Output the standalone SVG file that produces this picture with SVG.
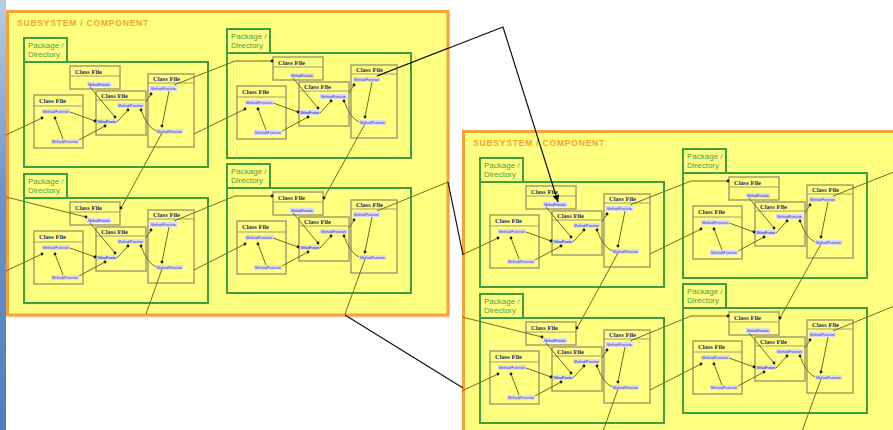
<svg xmlns="http://www.w3.org/2000/svg" width="893" height="430" viewBox="0 0 893 430">
<defs>
<style>
.ss{fill:#ffff80;stroke:#f5a338;stroke-width:3}
.sst{font:bold 8.5px "Liberation Sans",Arial,sans-serif;fill:#f4a232;letter-spacing:0.8px}
.pkg{fill:#ffff80;stroke:#3f9e3f;stroke-width:2}
.pt{font:8px "Liberation Sans",Arial,sans-serif;fill:#4e9e44}
.cl{fill:#ffff80;stroke:#a89e6c;stroke-width:1.5}
.ch{stroke:#a89e6c;stroke-width:1.2;fill:none}
.ct{font:bold 6.5px "Liberation Serif","Times New Roman",serif;fill:#26266e}
.mb{fill:#dadaf6}
.mt{font:3.4px "Liberation Sans",Arial,sans-serif;fill:#3434a6;text-anchor:middle}
.cn{fill:none;stroke:#6d6d2c;stroke-width:1}
.d{marker-end:url(#dot)}
.bk{fill:none;stroke:#111;stroke-width:1.2}
</style>
<marker id="dot" viewBox="0 0 4 4" refX="2" refY="2" markerWidth="4" markerHeight="4" markerUnits="userSpaceOnUse"><circle cx="2" cy="2" r="1.4" fill="#1c1c0c"/></marker>
<marker id="arr" viewBox="0 0 10 10" refX="10" refY="5" markerWidth="7" markerHeight="7" markerUnits="userSpaceOnUse" orient="auto"><path d="M0 0L10 5L0 10z" fill="#111"/></marker>
<linearGradient id="side" x1="0" y1="0" x2="0" y2="1"><stop offset="0" stop-color="#b8cce4"/><stop offset="0.45" stop-color="#6d94c8"/><stop offset="1" stop-color="#4f7dbd"/></linearGradient>
</defs>
<rect x="0" y="0" width="893" height="430" fill="#fff"/>
<rect x="0" y="0" width="6" height="430" fill="url(#side)"/>

<g id="subsystem1">
<rect x="9" y="14" width="441" height="304" fill="#e9e9df"/>
<rect class="ss" x="7.5" y="11.5" width="440.5" height="303.5"/>
<text class="sst" x="17" y="26">SUBSYSTEM / COMPONENT</text>

<g id="s1p1" transform="translate(24 38)">
<rect class="pkg" x="0" y="0" width="43" height="24"/>
<rect class="pkg" x="0" y="24" width="184" height="105"/>
<text class="pt" x="4" y="10">Package /</text>
<text class="pt" x="4" y="19">Directory</text>
<g id="s1p1-c1"><rect class="cl" x="46" y="28" width="50" height="23"/><path class="ch" d="M46 38H96"/><text class="ct" x="51" y="35.5">Class File</text><rect class="mb" x="63" y="44" width="24" height="5"/><text class="mt" x="75" y="47.8" textLength="22">Method/Function</text></g>
<g id="s1p1-c2"><rect class="cl" x="10" y="57" width="49" height="53"/><path class="ch" d="M10 68H59"/><text class="ct" x="15" y="65">Class File</text><rect class="mb" x="18" y="71" width="28" height="5"/><text class="mt" x="32" y="74.8" textLength="26">Method/Function</text><rect class="mb" x="27" y="101" width="28" height="5"/><text class="mt" x="41" y="104.8" textLength="26">Method/Function</text></g>
<g id="s1p1-c3"><rect class="cl" x="72" y="53" width="50" height="44"/><path class="ch" d="M72 62H122"/><text class="ct" x="77" y="60">Class File</text><rect class="mb" x="93" y="65" width="27" height="5"/><text class="mt" x="106.5" y="68.8" textLength="25">Method/Function</text><rect class="mb" x="73" y="81" width="20" height="5"/><text class="mt" x="83" y="84.8" textLength="19">Method/Function</text></g>
<g id="s1p1-c4"><rect class="cl" x="124" y="36" width="46" height="73"/><path class="ch" d="M124 45H170"/><text class="ct" x="129" y="43">Class File</text><rect class="mb" x="126" y="48" width="27" height="5"/><text class="mt" x="139.5" y="51.8" textLength="25">Method/Function</text><rect class="mb" x="132" y="91" width="27" height="5"/><text class="mt" x="145.5" y="94.8" textLength="25">Method/Function</text></g>
</g>

<g id="s1p2" transform="translate(227 29)">
<rect class="pkg" x="0" y="0" width="43" height="24"/>
<rect class="pkg" x="0" y="24" width="184" height="105"/>
<text class="pt" x="4" y="10">Package /</text>
<text class="pt" x="4" y="19">Directory</text>
<g id="s1p2-c1"><rect class="cl" x="46" y="28" width="50" height="23"/><path class="ch" d="M46 38H96"/><text class="ct" x="51" y="35.5">Class File</text><rect class="mb" x="63" y="44" width="24" height="5"/><text class="mt" x="75" y="47.8" textLength="22">Method/Function</text></g>
<g id="s1p2-c2"><rect class="cl" x="10" y="57" width="49" height="53"/><path class="ch" d="M10 68H59"/><text class="ct" x="15" y="65">Class File</text><rect class="mb" x="18" y="71" width="28" height="5"/><text class="mt" x="32" y="74.8" textLength="26">Method/Function</text><rect class="mb" x="27" y="101" width="28" height="5"/><text class="mt" x="41" y="104.8" textLength="26">Method/Function</text></g>
<g id="s1p2-c3"><rect class="cl" x="72" y="53" width="50" height="44"/><path class="ch" d="M72 62H122"/><text class="ct" x="77" y="60">Class File</text><rect class="mb" x="93" y="65" width="27" height="5"/><text class="mt" x="106.5" y="68.8" textLength="25">Method/Function</text><rect class="mb" x="73" y="81" width="20" height="5"/><text class="mt" x="83" y="84.8" textLength="19">Method/Function</text></g>
<g id="s1p2-c4"><rect class="cl" x="124" y="36" width="46" height="73"/><path class="ch" d="M124 45H170"/><text class="ct" x="129" y="43">Class File</text><rect class="mb" x="126" y="48" width="27" height="5"/><text class="mt" x="139.5" y="51.8" textLength="25">Method/Function</text><rect class="mb" x="132" y="91" width="27" height="5"/><text class="mt" x="145.5" y="94.8" textLength="25">Method/Function</text></g>
</g>

<g id="s1p3" transform="translate(24 174)">
<rect class="pkg" x="0" y="0" width="43" height="24"/>
<rect class="pkg" x="0" y="24" width="184" height="105"/>
<text class="pt" x="4" y="10">Package /</text>
<text class="pt" x="4" y="19">Directory</text>
<g id="s1p3-c1"><rect class="cl" x="46" y="28" width="50" height="23"/><path class="ch" d="M46 38H96"/><text class="ct" x="51" y="35.5">Class File</text><rect class="mb" x="63" y="44" width="24" height="5"/><text class="mt" x="75" y="47.8" textLength="22">Method/Function</text></g>
<g id="s1p3-c2"><rect class="cl" x="10" y="57" width="49" height="53"/><path class="ch" d="M10 68H59"/><text class="ct" x="15" y="65">Class File</text><rect class="mb" x="18" y="71" width="28" height="5"/><text class="mt" x="32" y="74.8" textLength="26">Method/Function</text><rect class="mb" x="27" y="101" width="28" height="5"/><text class="mt" x="41" y="104.8" textLength="26">Method/Function</text></g>
<g id="s1p3-c3"><rect class="cl" x="72" y="53" width="50" height="44"/><path class="ch" d="M72 62H122"/><text class="ct" x="77" y="60">Class File</text><rect class="mb" x="93" y="65" width="27" height="5"/><text class="mt" x="106.5" y="68.8" textLength="25">Method/Function</text><rect class="mb" x="73" y="81" width="20" height="5"/><text class="mt" x="83" y="84.8" textLength="19">Method/Function</text></g>
<g id="s1p3-c4"><rect class="cl" x="124" y="36" width="46" height="73"/><path class="ch" d="M124 45H170"/><text class="ct" x="129" y="43">Class File</text><rect class="mb" x="126" y="48" width="27" height="5"/><text class="mt" x="139.5" y="51.8" textLength="25">Method/Function</text><rect class="mb" x="132" y="91" width="27" height="5"/><text class="mt" x="145.5" y="94.8" textLength="25">Method/Function</text></g>
</g>

<g id="s1p4" transform="translate(227 164)">
<rect class="pkg" x="0" y="0" width="43" height="24"/>
<rect class="pkg" x="0" y="24" width="184" height="105"/>
<text class="pt" x="4" y="10">Package /</text>
<text class="pt" x="4" y="19">Directory</text>
<g id="s1p4-c1"><rect class="cl" x="46" y="28" width="50" height="23"/><path class="ch" d="M46 38H96"/><text class="ct" x="51" y="35.5">Class File</text><rect class="mb" x="63" y="44" width="24" height="5"/><text class="mt" x="75" y="47.8" textLength="22">Method/Function</text></g>
<g id="s1p4-c2"><rect class="cl" x="10" y="57" width="49" height="53"/><path class="ch" d="M10 68H59"/><text class="ct" x="15" y="65">Class File</text><rect class="mb" x="18" y="71" width="28" height="5"/><text class="mt" x="32" y="74.8" textLength="26">Method/Function</text><rect class="mb" x="27" y="101" width="28" height="5"/><text class="mt" x="41" y="104.8" textLength="26">Method/Function</text></g>
<g id="s1p4-c3"><rect class="cl" x="72" y="53" width="50" height="44"/><path class="ch" d="M72 62H122"/><text class="ct" x="77" y="60">Class File</text><rect class="mb" x="93" y="65" width="27" height="5"/><text class="mt" x="106.5" y="68.8" textLength="25">Method/Function</text><rect class="mb" x="73" y="81" width="20" height="5"/><text class="mt" x="83" y="84.8" textLength="19">Method/Function</text></g>
<g id="s1p4-c4"><rect class="cl" x="124" y="36" width="46" height="73"/><path class="ch" d="M124 45H170"/><text class="ct" x="129" y="43">Class File</text><rect class="mb" x="126" y="48" width="27" height="5"/><text class="mt" x="139.5" y="51.8" textLength="25">Method/Function</text><rect class="mb" x="132" y="91" width="27" height="5"/><text class="mt" x="145.5" y="94.8" textLength="25">Method/Function</text></g>
</g>

<g id="s1-connectors">
<g transform="translate(24 38)"><path class="cn d" d="M39 101L31 80"/><path class="cn d" d="M46 74L71 83"/><path class="cn d" d="M55 102L81 88"/><path class="cn d" d="M66 49L91 79"/><path class="cn d" d="M93 84L104 72"/><path class="cn d" d="M132 93Q123 89 117 72"/><path class="cn d" d="M122 64L127 56"/><path class="cn d" d="M145 53L138 88"/></g>
<g transform="translate(227 29)"><path class="cn d" d="M39 101L31 80"/><path class="cn d" d="M46 74L71 83"/><path class="cn d" d="M55 102L81 88"/><path class="cn d" d="M66 49L91 79"/><path class="cn d" d="M93 84L104 72"/><path class="cn d" d="M132 93Q123 89 117 72"/><path class="cn d" d="M122 64L127 56"/><path class="cn d" d="M145 53L138 88"/></g>
<g transform="translate(24 174)"><path class="cn d" d="M39 101L31 80"/><path class="cn d" d="M46 74L71 83"/><path class="cn d" d="M55 102L81 88"/><path class="cn d" d="M66 49L91 79"/><path class="cn d" d="M93 84L104 72"/><path class="cn d" d="M132 93Q123 89 117 72"/><path class="cn d" d="M122 64L127 56"/><path class="cn d" d="M145 53L138 88"/></g>
<g transform="translate(227 164)"><path class="cn d" d="M39 101L31 80"/><path class="cn d" d="M46 74L71 83"/><path class="cn d" d="M55 102L81 88"/><path class="cn d" d="M66 49L91 79"/><path class="cn d" d="M93 84L104 72"/><path class="cn d" d="M132 93Q123 89 117 72"/><path class="cn d" d="M122 64L127 56"/><path class="cn d" d="M145 53L138 88"/></g>
<path class="cn d" d="M174 85L235 61L272 61"/>
<path class="cn d" d="M174 221L235 196L272 196"/>
<path class="cn" d="M377 76L448 48"/>
<path class="cn" d="M377 211L448 182"/>
<path class="cn d" d="M194 134L245 109"/>
<path class="cn d" d="M194 270L245 244"/>
<path class="cn d" d="M162 133L121 208"/>
<path class="cn d" d="M365 124L324 198"/>
<path class="cn" d="M162 269L146 314"/>
<path class="cn" d="M365 259L345 314"/>
<path class="cn d" d="M6 135L42 118"/>
<path class="cn d" d="M6 271L42 254"/>
<path class="cn d" d="M6 197L86 217"/>
</g>
</g>

<g id="subsystem2" transform="translate(456 120)">
<rect x="9" y="14" width="441" height="304" fill="#e9e9df"/>
<rect class="ss" x="7.5" y="11.5" width="440.5" height="303.5"/>
<text class="sst" x="17" y="26">SUBSYSTEM / COMPONENT</text>

<g id="s2p1" transform="translate(24 38)">
<rect class="pkg" x="0" y="0" width="43" height="24"/>
<rect class="pkg" x="0" y="24" width="184" height="105"/>
<text class="pt" x="4" y="10">Package /</text>
<text class="pt" x="4" y="19">Directory</text>
<g id="s2p1-c1"><rect class="cl" x="46" y="28" width="50" height="23"/><path class="ch" d="M46 38H96"/><text class="ct" x="51" y="35.5">Class File</text><rect class="mb" x="63" y="44" width="24" height="5"/><text class="mt" x="75" y="47.8" textLength="22">Method/Function</text></g>
<g id="s2p1-c2"><rect class="cl" x="10" y="57" width="49" height="53"/><path class="ch" d="M10 68H59"/><text class="ct" x="15" y="65">Class File</text><rect class="mb" x="18" y="71" width="28" height="5"/><text class="mt" x="32" y="74.8" textLength="26">Method/Function</text><rect class="mb" x="27" y="101" width="28" height="5"/><text class="mt" x="41" y="104.8" textLength="26">Method/Function</text></g>
<g id="s2p1-c3"><rect class="cl" x="72" y="53" width="50" height="44"/><path class="ch" d="M72 62H122"/><text class="ct" x="77" y="60">Class File</text><rect class="mb" x="93" y="65" width="27" height="5"/><text class="mt" x="106.5" y="68.8" textLength="25">Method/Function</text><rect class="mb" x="73" y="81" width="20" height="5"/><text class="mt" x="83" y="84.8" textLength="19">Method/Function</text></g>
<g id="s2p1-c4"><rect class="cl" x="124" y="36" width="46" height="73"/><path class="ch" d="M124 45H170"/><text class="ct" x="129" y="43">Class File</text><rect class="mb" x="126" y="48" width="27" height="5"/><text class="mt" x="139.5" y="51.8" textLength="25">Method/Function</text><rect class="mb" x="132" y="91" width="27" height="5"/><text class="mt" x="145.5" y="94.8" textLength="25">Method/Function</text></g>
</g>

<g id="s2p2" transform="translate(227 29)">
<rect class="pkg" x="0" y="0" width="43" height="24"/>
<rect class="pkg" x="0" y="24" width="184" height="105"/>
<text class="pt" x="4" y="10">Package /</text>
<text class="pt" x="4" y="19">Directory</text>
<g id="s2p2-c1"><rect class="cl" x="46" y="28" width="50" height="23"/><path class="ch" d="M46 38H96"/><text class="ct" x="51" y="35.5">Class File</text><rect class="mb" x="63" y="44" width="24" height="5"/><text class="mt" x="75" y="47.8" textLength="22">Method/Function</text></g>
<g id="s2p2-c2"><rect class="cl" x="10" y="57" width="49" height="53"/><path class="ch" d="M10 68H59"/><text class="ct" x="15" y="65">Class File</text><rect class="mb" x="18" y="71" width="28" height="5"/><text class="mt" x="32" y="74.8" textLength="26">Method/Function</text><rect class="mb" x="27" y="101" width="28" height="5"/><text class="mt" x="41" y="104.8" textLength="26">Method/Function</text></g>
<g id="s2p2-c3"><rect class="cl" x="72" y="53" width="50" height="44"/><path class="ch" d="M72 62H122"/><text class="ct" x="77" y="60">Class File</text><rect class="mb" x="93" y="65" width="27" height="5"/><text class="mt" x="106.5" y="68.8" textLength="25">Method/Function</text><rect class="mb" x="73" y="81" width="20" height="5"/><text class="mt" x="83" y="84.8" textLength="19">Method/Function</text></g>
<g id="s2p2-c4"><rect class="cl" x="124" y="36" width="46" height="73"/><path class="ch" d="M124 45H170"/><text class="ct" x="129" y="43">Class File</text><rect class="mb" x="126" y="48" width="27" height="5"/><text class="mt" x="139.5" y="51.8" textLength="25">Method/Function</text><rect class="mb" x="132" y="91" width="27" height="5"/><text class="mt" x="145.5" y="94.8" textLength="25">Method/Function</text></g>
</g>

<g id="s2p3" transform="translate(24 174)">
<rect class="pkg" x="0" y="0" width="43" height="24"/>
<rect class="pkg" x="0" y="24" width="184" height="105"/>
<text class="pt" x="4" y="10">Package /</text>
<text class="pt" x="4" y="19">Directory</text>
<g id="s2p3-c1"><rect class="cl" x="46" y="28" width="50" height="23"/><path class="ch" d="M46 38H96"/><text class="ct" x="51" y="35.5">Class File</text><rect class="mb" x="63" y="44" width="24" height="5"/><text class="mt" x="75" y="47.8" textLength="22">Method/Function</text></g>
<g id="s2p3-c2"><rect class="cl" x="10" y="57" width="49" height="53"/><path class="ch" d="M10 68H59"/><text class="ct" x="15" y="65">Class File</text><rect class="mb" x="18" y="71" width="28" height="5"/><text class="mt" x="32" y="74.8" textLength="26">Method/Function</text><rect class="mb" x="27" y="101" width="28" height="5"/><text class="mt" x="41" y="104.8" textLength="26">Method/Function</text></g>
<g id="s2p3-c3"><rect class="cl" x="72" y="53" width="50" height="44"/><path class="ch" d="M72 62H122"/><text class="ct" x="77" y="60">Class File</text><rect class="mb" x="93" y="65" width="27" height="5"/><text class="mt" x="106.5" y="68.8" textLength="25">Method/Function</text><rect class="mb" x="73" y="81" width="20" height="5"/><text class="mt" x="83" y="84.8" textLength="19">Method/Function</text></g>
<g id="s2p3-c4"><rect class="cl" x="124" y="36" width="46" height="73"/><path class="ch" d="M124 45H170"/><text class="ct" x="129" y="43">Class File</text><rect class="mb" x="126" y="48" width="27" height="5"/><text class="mt" x="139.5" y="51.8" textLength="25">Method/Function</text><rect class="mb" x="132" y="91" width="27" height="5"/><text class="mt" x="145.5" y="94.8" textLength="25">Method/Function</text></g>
</g>

<g id="s2p4" transform="translate(227 164)">
<rect class="pkg" x="0" y="0" width="43" height="24"/>
<rect class="pkg" x="0" y="24" width="184" height="105"/>
<text class="pt" x="4" y="10">Package /</text>
<text class="pt" x="4" y="19">Directory</text>
<g id="s2p4-c1"><rect class="cl" x="46" y="28" width="50" height="23"/><path class="ch" d="M46 38H96"/><text class="ct" x="51" y="35.5">Class File</text><rect class="mb" x="63" y="44" width="24" height="5"/><text class="mt" x="75" y="47.8" textLength="22">Method/Function</text></g>
<g id="s2p4-c2"><rect class="cl" x="10" y="57" width="49" height="53"/><path class="ch" d="M10 68H59"/><text class="ct" x="15" y="65">Class File</text><rect class="mb" x="18" y="71" width="28" height="5"/><text class="mt" x="32" y="74.8" textLength="26">Method/Function</text><rect class="mb" x="27" y="101" width="28" height="5"/><text class="mt" x="41" y="104.8" textLength="26">Method/Function</text></g>
<g id="s2p4-c3"><rect class="cl" x="72" y="53" width="50" height="44"/><path class="ch" d="M72 62H122"/><text class="ct" x="77" y="60">Class File</text><rect class="mb" x="93" y="65" width="27" height="5"/><text class="mt" x="106.5" y="68.8" textLength="25">Method/Function</text><rect class="mb" x="73" y="81" width="20" height="5"/><text class="mt" x="83" y="84.8" textLength="19">Method/Function</text></g>
<g id="s2p4-c4"><rect class="cl" x="124" y="36" width="46" height="73"/><path class="ch" d="M124 45H170"/><text class="ct" x="129" y="43">Class File</text><rect class="mb" x="126" y="48" width="27" height="5"/><text class="mt" x="139.5" y="51.8" textLength="25">Method/Function</text><rect class="mb" x="132" y="91" width="27" height="5"/><text class="mt" x="145.5" y="94.8" textLength="25">Method/Function</text></g>
</g>

<g id="s2-connectors">
<g transform="translate(24 38)"><path class="cn d" d="M39 101L31 80"/><path class="cn d" d="M46 74L71 83"/><path class="cn d" d="M55 102L81 88"/><path class="cn d" d="M66 49L91 79"/><path class="cn d" d="M93 84L104 72"/><path class="cn d" d="M132 93Q123 89 117 72"/><path class="cn d" d="M122 64L127 56"/><path class="cn d" d="M145 53L138 88"/></g>
<g transform="translate(227 29)"><path class="cn d" d="M39 101L31 80"/><path class="cn d" d="M46 74L71 83"/><path class="cn d" d="M55 102L81 88"/><path class="cn d" d="M66 49L91 79"/><path class="cn d" d="M93 84L104 72"/><path class="cn d" d="M132 93Q123 89 117 72"/><path class="cn d" d="M122 64L127 56"/><path class="cn d" d="M145 53L138 88"/></g>
<g transform="translate(24 174)"><path class="cn d" d="M39 101L31 80"/><path class="cn d" d="M46 74L71 83"/><path class="cn d" d="M55 102L81 88"/><path class="cn d" d="M66 49L91 79"/><path class="cn d" d="M93 84L104 72"/><path class="cn d" d="M132 93Q123 89 117 72"/><path class="cn d" d="M122 64L127 56"/><path class="cn d" d="M145 53L138 88"/></g>
<g transform="translate(227 164)"><path class="cn d" d="M39 101L31 80"/><path class="cn d" d="M46 74L71 83"/><path class="cn d" d="M55 102L81 88"/><path class="cn d" d="M66 49L91 79"/><path class="cn d" d="M93 84L104 72"/><path class="cn d" d="M132 93Q123 89 117 72"/><path class="cn d" d="M122 64L127 56"/><path class="cn d" d="M145 53L138 88"/></g>
<path class="cn d" d="M174 85L235 61L272 61"/>
<path class="cn d" d="M174 221L235 196L272 196"/>
<path class="cn" d="M377 76L448 48"/>
<path class="cn" d="M377 211L448 182"/>
<path class="cn d" d="M194 134L245 109"/>
<path class="cn d" d="M194 270L245 244"/>
<path class="cn d" d="M162 133L121 208"/>
<path class="cn d" d="M365 124L324 198"/>
<path class="cn" d="M162 269L146 314"/>
<path class="cn" d="M365 259L345 314"/>
<path class="cn d" d="M6 135L42 118"/>
<path class="cn d" d="M6 271L42 254"/>
<path class="cn d" d="M6 197L86 217"/>
</g>
</g>

<g id="links">
<path class="bk" marker-end="url(#arr)" d="M377 76L503 27L558 202"/>
<path class="bk" d="M448 182L463 255"/>
<path class="bk" d="M345 315L463 388"/>
</g>
</svg>
